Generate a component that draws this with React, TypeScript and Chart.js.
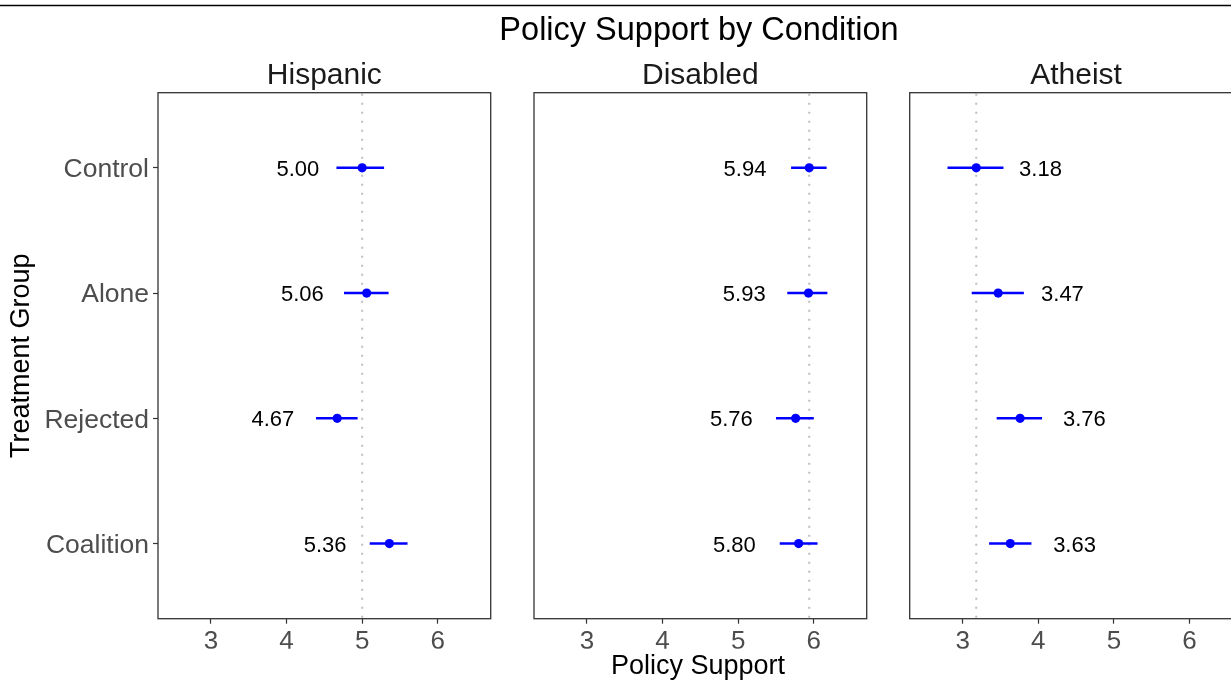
import React, { useEffect, useRef } from "react";
import { Chart, registerables } from "chart.js";

Chart.register(...registerables);

// Treatment groups (top to bottom) and the three target conditions
const groups = ["Control", "Alone", "Rejected", "Coalition"];
const conditions = ["Hispanic", "Disabled", "Atheist"];

// Mean policy support with 95% interval bounds, per group
const hispanicMean = [5.0, 5.06, 4.67, 5.36];
const hispanicLow = [4.66, 4.76, 4.39, 5.1];
const hispanicHigh = [5.29, 5.35, 4.94, 5.6];

const disabledMean = [5.94, 5.93, 5.76, 5.8];
const disabledLow = [5.7, 5.65, 5.5, 5.55];
const disabledHigh = [6.17, 6.18, 6.0, 6.05];

const atheistMean = [3.18, 3.47, 3.76, 3.63];
const atheistLow = [2.8, 3.12, 3.45, 3.35];
const atheistHigh = [3.54, 3.81, 4.05, 3.91];

const xTicks = [3, 4, 5, 6];
const xMin = 2.3;
const xMax = 6.7;
// value labels sit to the left (-1) or right (+1) of each estimate
const labelSide = [-1, -1, 1];
const labelNudge = 0.85;

const FONT = '"Liberation Sans", Arial, Helvetica, sans-serif';
const BLUE = "#0000FF";

const panelMeans = [hispanicMean, disabledMean, atheistMean];
const panelLow = [hispanicLow, disabledLow, atheistLow];
const panelHigh = [hispanicHigh, disabledHigh, atheistHigh];

// Layout of the three facets (canvas px)
const CANVAS_W = 1260;
const CANVAS_H = 681;
const PANEL_W = 332.7;
const PANEL_LEFT = [158, 534, 909.7];
const PANEL_TOP = 92.7;
const PANEL_BOTTOM = 618.7;
const X_AXIS_H = 30;
const Y_AXIS_W = 158;

function makePanelPlugin(idx: number) {
  return {
    id: "facet" + idx,
    beforeDatasetsDraw(chart: any) {
      const { ctx, chartArea } = chart;
      const xs = chart.scales.x;
      const ys = chart.scales.y;
      const means = panelMeans[idx];
      // dotted reference line at the Control mean
      ctx.save();
      ctx.strokeStyle = "#BEBEBE";
      ctx.lineWidth = 2;
      ctx.setLineDash([2, 7]);
      const rx = xs.getPixelForValue(means[0]);
      ctx.beginPath();
      ctx.moveTo(rx, chartArea.top + 1);
      ctx.lineTo(rx, chartArea.bottom);
      ctx.stroke();
      ctx.restore();
      // horizontal interval bars
      ctx.save();
      ctx.strokeStyle = BLUE;
      ctx.lineWidth = 2.5;
      for (let i = 0; i < means.length; i++) {
        const y = ys.getPixelForValue(i);
        ctx.beginPath();
        ctx.moveTo(xs.getPixelForValue(panelLow[idx][i]), y);
        ctx.lineTo(xs.getPixelForValue(panelHigh[idx][i]), y);
        ctx.stroke();
      }
      ctx.restore();
    },
    afterDatasetsDraw(chart: any) {
      const { ctx } = chart;
      const xs = chart.scales.x;
      const ys = chart.scales.y;
      const means = panelMeans[idx];
      ctx.save();
      ctx.fillStyle = "#000000";
      ctx.font = `22px ${FONT}`;
      ctx.textAlign = "center";
      ctx.textBaseline = "middle";
      for (let i = 0; i < means.length; i++) {
        const x = xs.getPixelForValue(means[i] + labelSide[idx] * labelNudge);
        const y = ys.getPixelForValue(i);
        ctx.fillText(means[i].toFixed(2), x, y + 2);
      }
      ctx.restore();
    },
    afterDraw(chart: any) {
      const { ctx, chartArea } = chart;
      ctx.save();
      // panel border
      ctx.strokeStyle = "#333333";
      ctx.lineWidth = 1.3;
      ctx.strokeRect(
        chartArea.left,
        chartArea.top,
        chartArea.right - chartArea.left,
        chartArea.bottom - chartArea.top
      );
      // facet strip title
      ctx.fillStyle = "#1A1A1A";
      ctx.font = `30px ${FONT}`;
      ctx.textAlign = "center";
      ctx.textBaseline = "middle";
      ctx.fillText(conditions[idx], (chartArea.left + chartArea.right) / 2, 76);
      ctx.restore();
    },
  };
}

// Figure-level text: main title, axis titles and the rule above
const figurePlugin = {
  id: "figureText",
  afterDraw(chart: any) {
    const { ctx } = chart;
    ctx.save();
    ctx.strokeStyle = "#000000";
    ctx.lineWidth = 1.5;
    ctx.beginPath();
    ctx.moveTo(0, 5.5);
    ctx.lineTo(1231, 5.5);
    ctx.stroke();

    ctx.fillStyle = "#000000";
    ctx.textAlign = "center";
    ctx.textBaseline = "middle";
    ctx.font = `32.5px ${FONT}`;
    ctx.fillText("Policy Support by Condition", 699, 31);
    ctx.font = `27px ${FONT}`;
    ctx.fillText("Policy Support", 698, 667);
    ctx.translate(22, (PANEL_TOP + PANEL_BOTTOM) / 2);
    ctx.rotate(-Math.PI / 2);
    ctx.fillText("Treatment Group", 0, 0);
    ctx.restore();
  },
};

function buildChart(canvas: HTMLCanvasElement, idx: number) {
  const showY = idx === 0;
  const left = showY ? PANEL_LEFT[idx] - Y_AXIS_W : PANEL_LEFT[idx];
  const right = CANVAS_W - (PANEL_LEFT[idx] + PANEL_W);
  const plugins: any[] = [makePanelPlugin(idx)];
  if (idx === 1) plugins.push(figurePlugin);

  return new Chart(canvas, {
    type: "scatter",
    data: {
      datasets: [
        {
          data: panelMeans[idx].map((m, i) => ({ x: m, y: i })),
          pointRadius: 4.6,
          pointHoverRadius: 4.6,
          pointBackgroundColor: BLUE,
          pointBorderColor: BLUE,
          pointBorderWidth: 0,
        },
      ],
    },
    options: {
      responsive: false,
      animation: false,
      events: [],
      layout: {
        padding: {
          left,
          right,
          top: PANEL_TOP,
          bottom: CANVAS_H - PANEL_BOTTOM - X_AXIS_H,
        },
      },
      plugins: {
        legend: { display: false },
        tooltip: { enabled: false },
        title: { display: false },
      },
      scales: {
        x: {
          type: "linear",
          min: xMin,
          max: xMax,
          afterBuildTicks: (s: any) => {
            s.ticks = xTicks.map((v) => ({ value: v }));
          },
          afterFit: (s: any) => {
            s.height = X_AXIS_H;
          },
          grid: {
            drawOnChartArea: false,
            drawTicks: true,
            tickLength: 5,
            tickColor: "#333333",
            tickWidth: 1.2,
          },
          border: { display: false },
          ticks: {
            autoSkip: false,
            maxRotation: 0,
            padding: 3,
            color: "#4D4D4D",
            font: { family: FONT, size: 26 },
          },
        },
        y: {
          type: "linear",
          display: showY,
          reverse: true,
          min: -0.6,
          max: 3.6,
          afterBuildTicks: (s: any) => {
            s.ticks = groups.map((_, i) => ({ value: i }));
          },
          afterFit: (s: any) => {
            s.width = showY ? Y_AXIS_W : 0;
          },
          grid: {
            drawOnChartArea: false,
            drawTicks: true,
            tickLength: 5,
            tickColor: "#333333",
            tickWidth: 1.2,
          },
          border: { display: false },
          ticks: {
            autoSkip: false,
            padding: 4,
            labelOffset: 2,
            color: "#4D4D4D",
            font: { family: FONT, size: 26.5 },
            callback: (v: any) => groups[v as number] ?? "",
          },
        },
      },
    } as any,
    plugins,
  });
}

export default function App() {
  const r0 = useRef<HTMLCanvasElement>(null);
  const r1 = useRef<HTMLCanvasElement>(null);
  const r2 = useRef<HTMLCanvasElement>(null);

  useEffect(() => {
    const refs = [r0, r1, r2];
    const charts = refs.map((r, i) => buildChart(r.current as HTMLCanvasElement, i));
    return () => charts.forEach((c) => c.destroy());
  }, []);

  const canvasStyle: React.CSSProperties = {
    position: "absolute",
    left: 0,
    top: 0,
    width: CANVAS_W,
    height: CANVAS_H,
  };

  return (
    <div
      style={{
        position: "absolute",
        left: 0,
        top: 0,
        width: 1231,
        height: 681,
        overflow: "hidden",
        background: "#ffffff",
      }}
    >
      <canvas ref={r0} width={CANVAS_W} height={CANVAS_H} style={canvasStyle} />
      <canvas ref={r1} width={CANVAS_W} height={CANVAS_H} style={canvasStyle} />
      <canvas ref={r2} width={CANVAS_W} height={CANVAS_H} style={canvasStyle} />
    </div>
  );
}
